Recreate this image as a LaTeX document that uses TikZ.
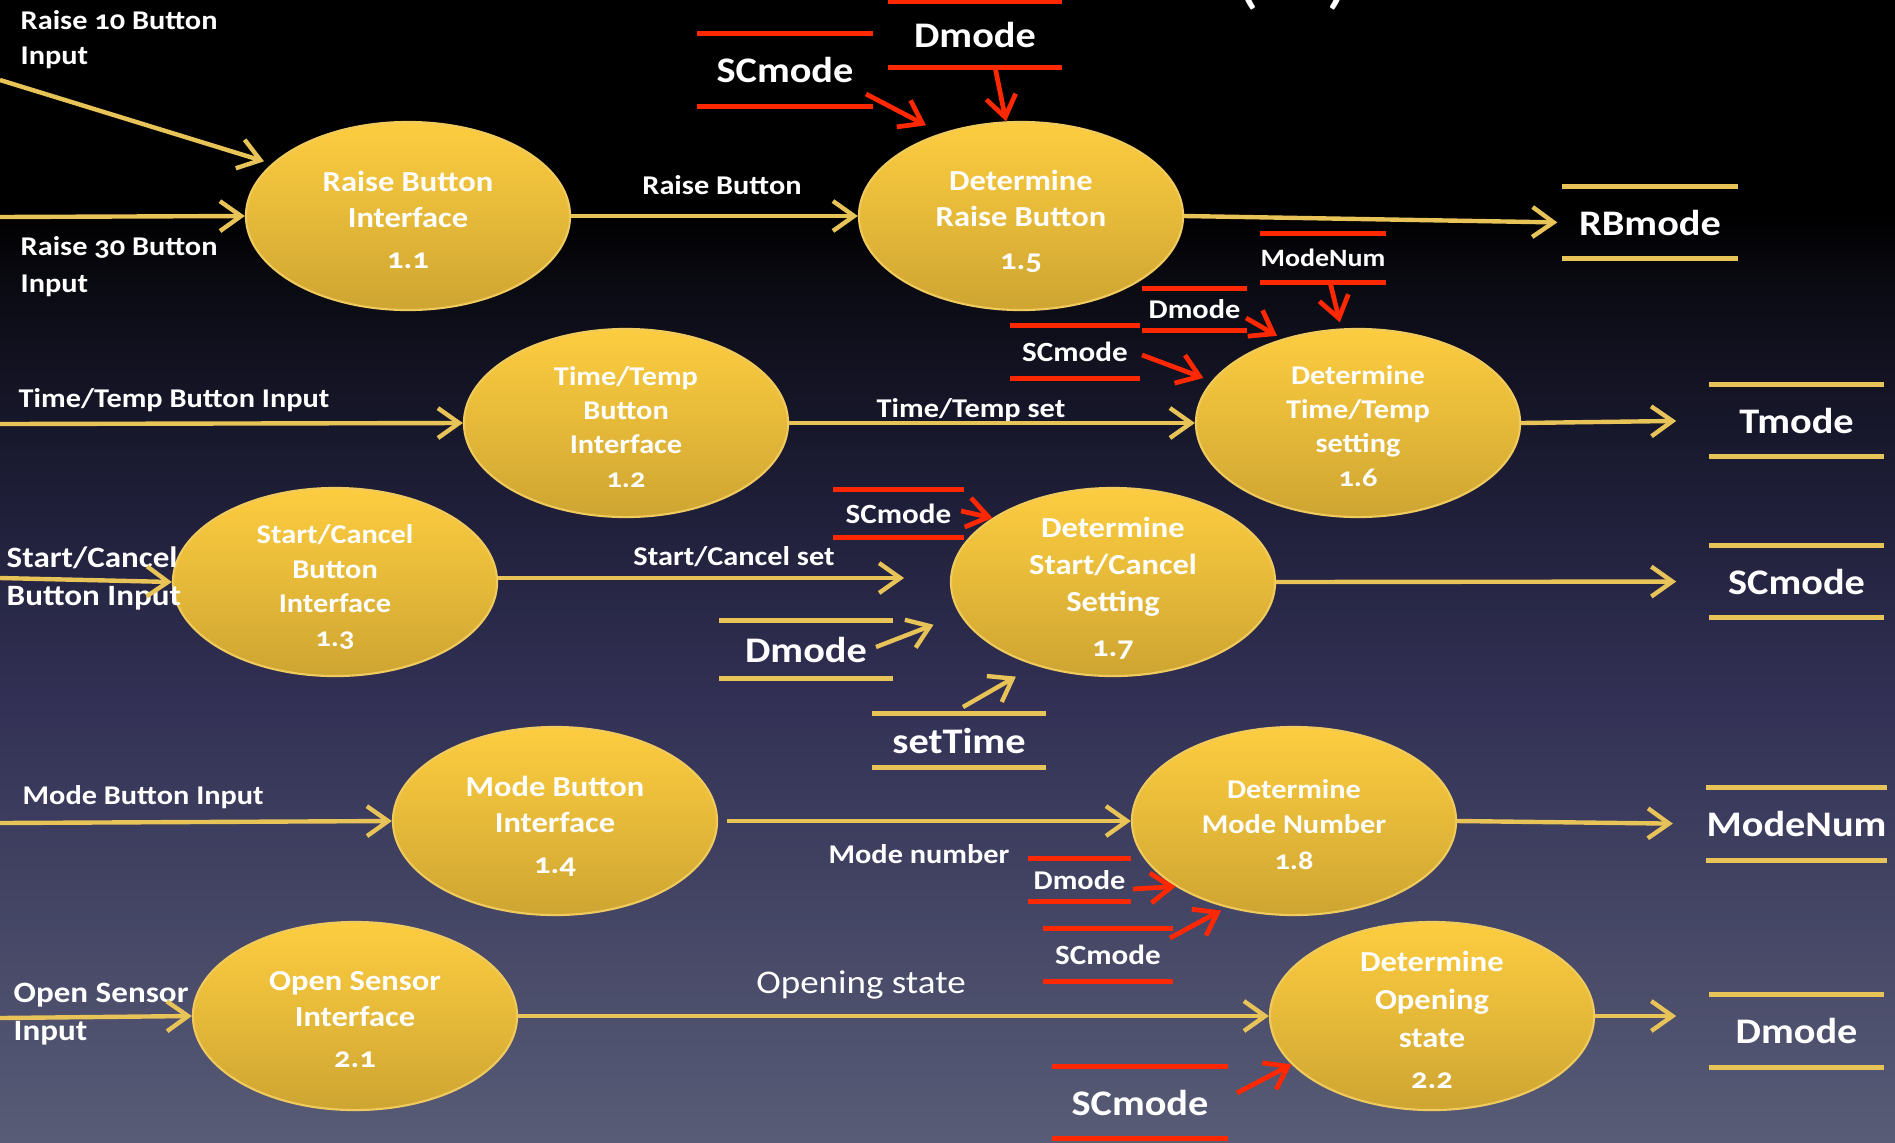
\documentclass[tikz,border=0pt]{standalone}
\usepackage{fontspec}
\setmainfont{Carlito}[FakeStretch=1.12,Numbers=OldStyle]
\usetikzlibrary{shapes.geometric,arrows.meta}

\definecolor{flow}{RGB}{232,196,88}
\definecolor{redflow}{RGB}{255,40,0}
\definecolor{bubtop}{RGB}{253,205,64}
\definecolor{bubbot}{RGB}{206,165,50}
\definecolor{bubrim}{RGB}{240,202,92}
\definecolor{bgA}{RGB}{12,12,22}
\definecolor{bgB}{RGB}{30,30,56}
\definecolor{bgC}{RGB}{50,49,85}
\definecolor{bgD}{RGB}{88,92,118}

\newcommand\setpx[2]{\fontsize{#1}{#2}\selectfont}
\newcommand\storelines[2]{\draw[#2] (#1.north west) -- (#1.north east) (#1.south west) -- (#1.south east);}

\begin{document}
\begin{tikzpicture}[x=0.01cm,y=-0.01cm,
  bubble/.style={ellipse, minimum width=3.24cm, minimum height=1.88cm, inner sep=0pt,
    top color=bubtop, bottom color=bubbot, draw=bubrim, line width=0.6pt},
  bubtext/.style={text=white, align=center, inner sep=0pt, font=\bfseries\setpx{8.25pt}{10.2pt}},
  bubsmall/.style={bubtext, font=\bfseries\setpx{7.7pt}{9.7pt}},
  lbl/.style={text=white, inner sep=0pt, font=\bfseries\setpx{7.7pt}{10pt}},
  inlbl/.style={lbl, anchor=west, align=left},
  store/.style={inner sep=0pt, text=white, font=\bfseries\setpx{10.24pt}{12pt}},
  smallstore/.style={store, font=\bfseries\setpx{7.9pt}{9pt}},
  ystore/.style={draw=flow, line width=1.3pt},
  rstore/.style={draw=redflow, line width=1.3pt},
  flowline/.style={draw=flow, line width=1.25pt, -{Straight Barb[length=6pt,width=8.5pt]}},
  redline/.style={draw=redflow, line width=1.35pt, -{Straight Barb[length=6pt,width=8.5pt]}},
]
\useasboundingbox (0,0) rectangle (1895,1142);
\begin{scope}
\clip (0,0) rectangle (1895,1142);

% background
\fill[black] (0,0) rectangle (1895,211);
\shade[top color=black, bottom color=bgA] (0,210) rectangle (1895,301);
\shade[top color=bgA, bottom color=bgB] (0,300) rectangle (1895,501);
\shade[top color=bgB, bottom color=bgC] (0,500) rectangle (1895,701);
\shade[top color=bgC, bottom color=bgD] (0,700) rectangle (1895,1142);

% title remnant at the top edge
\node[text=white, inner sep=0pt, anchor=base, font=\setpx{20pt}{24pt}] (ttl) at (1293,0) {(\hspace{19pt})};

% processes
\node[bubble] (e11) at (408,216) {};
\node[bubble] (e15) at (1021,216) {};
\node[bubble] (e12) at (626,423) {};
\node[bubble] (e16) at (1358,423) {};
\node[bubble] (e13) at (335,582) {};
\node[bubble] (e17) at (1113,582) {};
\node[bubble] (e14) at (555,821) {};
\node[bubble] (e18) at (1294,821) {};
\node[bubble] (e21) at (355,1016) {};
\node[bubble] (e22) at (1432,1016) {};

\node[bubtext] (t11) at (408,220) {Raise Button\\Interface\\[1.5pt]1.1};
\node[bubtext] (t15) at (1021,221) {Determine\\Raise Button\\[2pt]1.5};
\node[bubsmall] (t12) at (626,427) {Time/Temp\\Button\\Interface\\1.2};
\node[bubsmall] (t16) at (1358,426) {Determine\\Time/Temp\\setting\\1.6};
\node[bubsmall] (t13) at (335,587) {Start/Cancel\\Button\\Interface\\1.3};
\node[bubtext, font=\bfseries\setpx{8.25pt}{10.6pt}] (t17) at (1113,588) {Determine\\Start/Cancel\\Setting\\[2pt]1.7};
\node[bubtext] (t14) at (555,826) {Mode Button\\Interface\\[1.5pt]1.4};
\node[bubsmall] (t18) at (1294,825) {Determine\\Mode Number\\[0.8pt]1.8};
\node[bubtext] (t21) at (355,1020) {Open Sensor\\Interface\\[1.5pt]2.1};
\node[bubtext, font=\bfseries\setpx{8.25pt}{10.8pt}] (t22) at (1432,1020) {Determine\\Opening\\state\\[1pt]2.2};

% external inputs
\node[inlbl] (i10) at (20,39.5) {Raise 10 Button\\Input};
\node[inlbl, font=\bfseries\setpx{7.7pt}{10.5pt}] (i30) at (20,266.5) {Raise 30 Button\\Input};
\node[inlbl] (iTT) at (18,400) {Time/Temp Button Input};
\node[inlbl, font=\bfseries\setpx{8.4pt}{10.6pt}] (iSC) at (6,578.5) {Start/Cancel\\Button Input};
\node[inlbl] (iMB) at (22,797) {Mode Button Input};
\node[inlbl, font=\bfseries\setpx{8.4pt}{10.8pt}] (iOS) at (13,1014) {Open Sensor\\Input};

% flow labels
\node[lbl] (lRB) at (722,185) {Raise Button};
\node[lbl] (lTT) at (971,410) {Time/Temp set};
\node[lbl] (lSC) at (734,557) {Start/Cancel set};
\node[lbl] (lMN) at (919,854) {Mode number};
\node[lbl, font=\setpx{9.4pt}{11pt}] (lOS) at (861,985) {Opening state};

% data stores
\node[store, minimum width=1.74cm, minimum height=0.72cm] (scTop) at (785,70) {SCmode};
\node[store, minimum width=1.73cm, minimum height=0.65cm] (dmTop) at (975,34.5) {Dmode\hspace{5pt}};
\node[store, minimum width=1.74cm, minimum height=0.71cm] (rb) at (1650,222.5) {RBmode};
\node[smallstore, font=\bfseries\setpx{7.1pt}{9pt}, minimum width=1.22cm, minimum height=0.48cm] (mnS) at (1323,258) {ModeNum};
\node[smallstore, font=\bfseries\setpx{7.7pt}{9pt}, minimum width=1.03cm, minimum height=0.41cm] (dmS) at (1194.5,309.5) {Dmode};
\node[smallstore, minimum width=1.28cm, minimum height=0.52cm] (scS) at (1075,352) {SCmode};
\node[store, minimum width=1.73cm, minimum height=0.71cm] (tm) at (1796.5,420.5) {Tmode};
\node[smallstore, minimum width=1.29cm, minimum height=0.47cm] (scM) at (898.5,513.5) {SCmode};
\node[store, minimum width=1.72cm, minimum height=0.57cm] (dmM) at (806,649.5) {Dmode\hspace{6pt}};
\node[store, minimum width=1.72cm, minimum height=0.53cm] (st) at (959,740.5) {setTime\hspace{4pt}};
\node[store, minimum width=1.73cm, minimum height=0.71cm] (scR) at (1796.5,581.5) {SCmode};
\node[smallstore, font=\bfseries\setpx{7.7pt}{9pt}, minimum width=1.01cm, minimum height=0.42cm] (dmL) at (1079.5,880) {Dmode};
\node[smallstore, minimum width=1.28cm, minimum height=0.52cm] (scL) at (1108,955) {SCmode};
\node[store, minimum width=1.73cm, minimum height=0.72cm] (mnR) at (1796.5,824) {ModeNum};
\node[store, minimum width=1.74cm, minimum height=0.71cm] (scB) at (1140,1102.5) {SCmode};
\node[store, minimum width=1.73cm, minimum height=0.72cm] (dmR) at (1796.5,1031) {Dmode\hspace{5pt}};

\storelines{scTop}{rstore}
\storelines{dmTop}{rstore}
\storelines{rb}{ystore}
\storelines{mnS}{rstore}
\storelines{dmS}{rstore}
\storelines{scS}{rstore}
\storelines{tm}{ystore}
\storelines{scM}{rstore}
\storelines{dmM}{ystore}
\storelines{st}{ystore}
\storelines{scR}{ystore}
\storelines{dmL}{rstore}
\storelines{scL}{rstore}
\storelines{mnR}{ystore}
\storelines{scB}{rstore}
\storelines{dmR}{ystore}

% free ends of the flows
\coordinate (in10) at (0,80);
\coordinate (in30) at (0,217);
\coordinate (inTT) at (0,424);
\coordinate (inSC) at (0,578);
\coordinate (inMB) at (0,823);
\coordinate (inOS) at (0,1018);
\coordinate (scEnd) at (904,578);
\coordinate (c1) at (866,94);
\coordinate (c2) at (995,67);
\coordinate (c3) at (1330,282);
\coordinate (c4) at (1246,318);
\coordinate (c5) at (1142,355);
\coordinate (c6) at (961,511);
\coordinate (c7) at (876,647);
\coordinate (c8) at (963,707);
\coordinate (c9) at (1133,889);
\coordinate (c10) at (1170,938);
\coordinate (c11) at (1237,1093);

% input flows
\draw[flowline, shorten >=2.3pt] (in10) -- (e11.159.4);
\draw[flowline] (in30) -- (e11.west);
\draw[flowline] (inTT) -- (e12.west);
\draw[flowline] (inSC) -- (e13.west);
\draw[flowline] (inMB) -- (e14.west);
\draw[flowline] (inOS) -- (e21.west);

% process to process
\draw[flowline] (e11.east) -- (e15.west);
\draw[flowline] (e12.east) -- (e16.west);
\draw[flowline] (e13.east |- scEnd) -- (scEnd);
\draw[flowline, shorten <=2.5pt] (e14.east) -- (e18.west);
\draw[flowline] (e21.east) -- (e22.west);

% outputs to stores
\draw[flowline, shorten >=1.4pt] (e15.east) -- (rb.west);
\draw[flowline, shorten >=9.4pt] (e16.east) -- (tm.west);
\draw[flowline, shorten >=9.4pt] (e17.east) -- (scR.west);
\draw[flowline, shorten >=9.4pt] (e18.east) -- (mnR.west);
\draw[flowline, shorten >=9.4pt] (e22.east) -- (e22.east -| dmR.west);

% store reads
\draw[redline, shorten >=4.8pt] (c1) -- (e15.134.7);
\draw[redline] (c2) -- (e15.99.9);
\draw[redline, shorten >=1.8pt] (c3) -- (e16.100.2);
\draw[redline, shorten >=1.7pt] (c4) -- (e16.132.3);
\draw[redline, shorten >=2.5pt] (c5) -- (e16.164.5);
\draw[redline] (c6) -- (e17.152.8);
\draw[flowline, shorten >=8pt] (c7) -- (e17.192.5);
\draw[flowline, shorten >=6.3pt] (c8) -- (e17.227.1);
\draw[redline] (c9) -- (e18.209.8);
\draw[redline, shorten >=1.7pt] (c10) -- (e18.232);
\draw[redline] (c11) -- (e22.199.4);
\end{scope}
\end{tikzpicture}
\end{document}
